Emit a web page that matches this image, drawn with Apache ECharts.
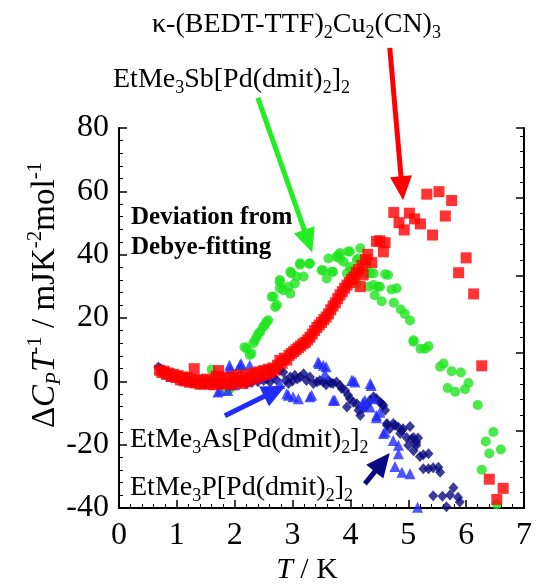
<!DOCTYPE html>
<html>
<head>
<meta charset="utf-8">
<script src="https://cdn.jsdelivr.net/npm/echarts@6/dist/echarts.min.js"></script>
<style>html,body{margin:0;padding:0;background:#fff}#c{width:541px;height:588px}</style>
</head>
<body>
<div id="c"></div>
<script>
// ---- data (T / K, ΔC_P T^-1 / mJ K^-2 mol^-1) ----
var kappaCN = [[0.70,3.5],[0.74,2.8],[0.78,3.2],[0.82,2.2],[0.86,2.6],[0.9,1.6],[0.94,2.2],[0.98,1.2],[1.02,1.8],[1.06,0.5],[1.1,1.4],[1.14,0.1],[1.18,1.2],[1.22,-0.3],[1.26,0.7],[1.3,4.0],[1.32,-0.5],[1.36,0.5],[1.4,-0.9],[1.44,0.3],[1.48,-0.7],[1.52,0.7],[1.56,-0.9],[1.6,0.1],[1.64,-1.1],[1.68,1.6],[1.72,3.4],[1.74,-0.5],[1.78,0.7],[1.82,-0.9],[1.86,1.4],[1.9,-0.3],[1.94,-1.1],[1.98,1.2],[2.02,-0.1],[2.06,2.0],[2.1,0.3],[2.14,-0.7],[2.18,1.4],[2.22,0.1],[2.26,2.2],[2.3,0.7],[2.34,2.6],[2.38,1.2],[2.42,3.0],[2.46,1.8],[2.5,3.4],[2.54,2.2],[2.58,3.8],[2.62,2.8],[2.66,4.2],[2.7,3.6],[2.74,5.1],[2.78,6.6],[2.82,5.7],[2.86,7.3],[2.9,6.7],[2.94,8.2],[2.98,8.8],[3.02,9.4],[3.06,10.0],[3.1,10.6],[3.14,11.2],[3.18,11.9],[3.22,12.3],[3.26,13.1],[3.3,13.9],[3.34,14.9],[3.38,16.0],[3.42,17.0],[3.46,17.8],[3.5,18.6],[3.54,19.5],[3.58,20.3],[3.62,21.3],[3.66,22.6],[3.7,23.8],[3.74,24.8],[3.78,26.1],[3.82,27.3],[3.86,28.3],[3.9,29.4],[3.94,30.4],[3.98,31.2],[4.02,32.2],[4.06,32.9],[4.1,34.3],[4.14,35.3],[4.17,29.9],[4.2,36.6],[4.22,33.6],[4.26,38.4],[4.3,40.1],[4.37,37.5],[4.45,44.2],[4.51,44.4],[4.57,40.9],[4.6,43.8],[4.75,53.3],[4.84,50.1],[4.93,47.8],[5.02,53.1],[5.11,51.3],[5.21,49.7],[5.32,59.1],[5.42,46.2],[5.53,59.9],[5.64,52.2],[5.75,57.1],[5.87,34.3],[6.00,39.0],[6.13,27.6],[6.27,4.9],[6.40,-30.9],[6.53,-37.3],[6.64,-33.8]];

var sbSalt = [[0.8,2.0],[1.0,1.0],[1.2,0],[1.4,-1.1],[1.6,3.7],[1.75,-1.1],[1.88,-2.9],[1.92,-2.3],[2.0,1.0],[2.1,4.0],[2.17,10.8],[2.21,10.3],[2.26,8.3],[2.29,8.8],[2.32,12.0],[2.35,13.0],[2.38,14.0],[2.41,15.1],[2.44,15.6],[2.49,17.2],[2.52,17.7],[2.55,18.8],[2.58,19.3],[2.64,26.7],[2.67,26.7],[2.7,23.5],[2.73,24.1],[2.78,29.4],[2.78,31.4],[2.78,32.0],[2.84,28.8],[2.93,29.9],[2.96,27.7],[2.96,34.6],[2.98,34.1],[3.04,30.9],[3.07,33.1],[3.13,36.8],[3.13,37.3],[3.19,33.1],[3.29,37.1],[3.30,37.3],[3.50,35.1],[3.53,35.1],[3.59,32.5],[3.62,38.8],[3.68,34.6],[3.70,34.6],[3.76,39.3],[3.79,39.8],[3.82,40.5],[3.82,38.8],[3.88,37.8],[3.94,34.1],[3.96,41.0],[3.99,36.1],[3.99,41.0],[4.02,35.1],[4.05,33.6],[4.11,30.9],[4.11,38.3],[4.14,38.8],[4.17,42.0],[4.28,36.1],[4.28,34.1],[4.31,29.9],[4.34,34.1],[4.40,30.4],[4.40,34.1],[4.42,27.2],[4.48,29.9],[4.51,29.9],[4.54,25.3],[4.60,33.8],[4.65,33.6],[4.71,29.0],[4.75,24.8],[4.80,29.4],[4.87,22.7],[4.94,21.3],[5.03,19.2],[5.09,13.0],[5.09,12.5],[5.21,10.3],[5.29,10.3],[5.35,11.1],[5.55,4.6],[5.61,5.6],[5.68,-2.1],[5.75,3.2],[5.81,-3.3],[5.91,2.8],[5.98,-2.5],[6.04,-0.5],[6.20,-7.5],[6.27,-27.9],[6.34,-19.0],[6.40,-22.8],[6.47,-16.0],[6.53,-38.8],[6.60,-21.5]];

var pSalt = [[0.68,4.5],[0.72,4.0],[0.76,3.6],[0.8,3.2],[0.85,2.8],[0.9,2.2],[0.95,1.8],[1.0,1.4],[1.06,1.0],[1.12,0.5],[1.18,0.1],[1.25,-0.1],[1.32,-0.3],[1.4,-0.5],[1.5,-0.7],[1.6,-0.7],[1.7,-0.9],[1.8,-0.7],[1.9,-0.9],[2.0,-0.7],[2.1,-0.5],[2.2,-0.7],[2.3,-0.3],[2.4,-0.1],[2.5,0.3],[2.56,0.7],[2.61,-0.2],[2.66,1.4],[2.72,0.5],[2.78,3.5],[2.84,2.9],[2.88,0.3],[2.93,-0.7],[2.96,1.4],[3.0,0.1],[3.04,1.9],[3.08,0.7],[3.13,1.4],[3.19,2.4],[3.24,0.3],[3.30,1.4],[3.36,-0.7],[3.42,-0.2],[3.47,0.3],[3.53,-0.2],[3.58,-1.1],[3.62,0.3],[3.66,-0.5],[3.70,-0.7],[3.76,-0.2],[3.82,-1.3],[3.85,-2.3],[3.91,-2.9],[3.94,-8.1],[3.96,-4.4],[3.99,-5.5],[4.05,-6.6],[4.11,-7.1],[4.14,-9.1],[4.17,-10.8],[4.22,-8.6],[4.28,-7.6],[4.34,-6.0],[4.40,-4.9],[4.45,-5.5],[4.51,-6.6],[4.54,-7.1],[4.57,-7.6],[4.60,-9.1],[4.63,-13.3],[4.63,-13.9],[4.68,-15.0],[4.74,-13.3],[4.77,-13.9],[4.83,-14.5],[4.86,-16.5],[4.89,-15.5],[4.91,-15.0],[4.97,-17.7],[5.00,-20.2],[5.03,-14.3],[5.06,-18.2],[5.09,-17.7],[5.09,-21.9],[5.14,-20.2],[5.14,-19.2],[5.17,-17.9],[5.20,-23.7],[5.26,-23.2],[5.26,-27.6],[5.35,-22.9],[5.35,-27.6],[5.43,-27.3],[5.52,-27.1],[5.55,-28.7],[5.43,-36.1],[5.59,-36.3],[5.66,-39.6],[5.72,-35.9],[5.78,-33.6],[5.86,-36.6],[5.89,-38.1]];

var asSalt = [[0.9,1.5],[1.1,0.4],[1.3,-0.1],[1.5,-0.6],[1.71,-3.4],[1.75,-2.9],[1.88,-2.9],[1.91,5.1],[1.92,4.0],[2.0,-1.1],[2.09,5.1],[2.11,5.6],[2.2,-0.1],[2.26,5.1],[2.4,1.0],[2.6,2.0],[2.78,-0.7],[2.90,-3.9],[2.93,-4.4],[3.01,-4.9],[3.10,-5.5],[3.30,-4.9],[3.33,-4.4],[3.44,6.1],[3.46,5.6],[3.53,5.1],[3.56,2.4],[3.58,4.6],[3.70,-6.0],[3.73,-6.0],[4.02,0.3],[4.05,0.3],[4.08,-0.2],[4.22,-6.6],[4.22,-7.6],[4.25,-6.0],[4.34,-0.7],[4.36,-1.3],[4.34,-8.1],[4.40,-5.5],[4.45,-10.8],[4.45,-11.5],[4.51,-9.8],[4.57,-16.5],[4.60,-16.0],[4.74,-18.7],[4.77,-26.9],[4.83,-20.2],[4.83,-22.9],[4.89,-28.7],[5.03,-29.2],[5.16,-39.8]];

var xTicks = [0, 7, 1];      // min, max, interval
var yTicks = [-40, 80, 20];  // min, max, interval

// arrows in data coordinates: [fromT, fromY, toT, toY]
var arrowRed   = [4.68, 105.3, 4.91, 57.2];
var arrowGreen = [2.40, 89.5, 3.34, 40.7];
var arrowBlue  = [1.83, -10.9, 2.88, -1.4];
var arrowNavy  = [4.25, -32.4, 4.68, -22.6];

var FONT = "'Liberation Serif','DejaVu Serif',serif";
var chart = echarts.init(document.getElementById('c'), null, {renderer:'canvas'});

function axisCommon() {
  return {
    axisLine: {show:true, onZero:false, lineStyle:{color:'#000', width:2}},
    axisTick: {show:true, inside:true, length:8, lineStyle:{color:'#000', width:1.5}},
    minorTick: {show:true, splitNumber:5, length:4, lineStyle:{color:'#000', width:1}},
    splitLine: {show:false}
  };
}

var option = {
  animation:false,
  backgroundColor:'#fff',
  grid:{left:119, right:17, top:128, bottom:80, containLabel:false},
  xAxis:[Object.assign(axisCommon(), {
    type:'value', min:xTicks[0], max:xTicks[1], interval:xTicks[2],
    axisLabel:{fontSize:32, color:'#000', fontFamily:FONT, margin:12}
  })],
  yAxis:[Object.assign(axisCommon(), {
    type:'value', min:yTicks[0], max:yTicks[1], interval:yTicks[2],
    axisLabel:{fontSize:32, color:'#000', fontFamily:FONT, margin:10}
  }), Object.assign(axisCommon(), {
    type:'value', position:'right', min:0, max:4.9, interval:1,
    axisLabel:{show:false}
  })],
  series:[
    {name:'EtMe3Sb', type:'scatter', data:sbSalt, symbol:'circle', symbolSize:10,
     itemStyle:{color:'#1de51d'}},
    {name:'EtMe3P', type:'scatter', data:pSalt, symbol:'diamond', symbolSize:[10,11],
     itemStyle:{color:'#0a0a80'}},
    {name:'EtMe3As', type:'scatter', data:asSalt, symbol:'triangle', symbolSize:11,
     itemStyle:{color:'#1f2bff'}},
    {name:'kappa', type:'scatter', data:kappaCN, symbol:'rect', symbolSize:11,
     itemStyle:{color:'#ff0000'}}
  ]
};
chart.setOption(option);

function arrow(a, color) {
  var p0 = chart.convertToPixel({xAxisIndex:0, yAxisIndex:0}, [a[0], a[1]]);
  var p1 = chart.convertToPixel({xAxisIndex:0, yAxisIndex:0}, [a[2], a[3]]);
  var dx = p1[0]-p0[0], dy = p1[1]-p0[1], L = Math.sqrt(dx*dx+dy*dy);
  var ux = dx/L, uy = dy/L, hl = 24, hw = 11;
  var bx = p1[0]-ux*hl, by = p1[1]-uy*hl;
  return [
    {type:'line', silent:true, z:100, shape:{x1:p0[0], y1:p0[1], x2:bx+ux*2, y2:by+uy*2},
     style:{stroke:color, lineWidth:5}},
    {type:'polygon', silent:true, z:100, shape:{points:[[p1[0],p1[1]],[bx-uy*hw,by+ux*hw],[bx+uy*hw,by-ux*hw]]},
     style:{fill:color}}
  ];
}

var m = {fontSize:28, fontFamily:FONT, lineHeight:34, verticalAlign:'middle', fill:'#000'};
var s = {fontSize:18, fontFamily:FONT, lineHeight:18, verticalAlign:'bottom', fill:'#000'};
var ym = {fontSize:33, fontFamily:FONT, lineHeight:40, verticalAlign:'middle', fill:'#000'};
var ymi = Object.assign({}, ym, {fontStyle:'italic'});
var ysi = {fontSize:21, fontFamily:FONT, lineHeight:21, verticalAlign:'bottom', fill:'#000', fontStyle:'italic'};
var ysup = {fontSize:21, fontFamily:FONT, lineHeight:28, verticalAlign:'top', fill:'#000'};
var xm = {fontSize:30, fontFamily:FONT, lineHeight:34, verticalAlign:'middle', fill:'#000'};
var xmi = Object.assign({}, xm, {fontStyle:'italic'});
var b = {fontSize:25, fontFamily:FONT, fontWeight:'bold', lineHeight:30, fill:'#000'};

var graphics = [];
graphics = graphics.concat(arrow(arrowRed, '#ff0000'), arrow(arrowGreen, '#22ee22'), arrow(arrowBlue, '#1f2bff'), arrow(arrowNavy, '#0a0a80'));
graphics.push(
  {type:'text', x:152, y:8, z:110, style:{text:'{m|κ-(BEDT-TTF)}{s|2}{m|Cu}{s|2}{m|(CN)}{s|3}', rich:{m:m, s:s}}},
  {type:'text', x:113, y:63, z:110, style:{text:'{m|EtMe}{s|3}{m|Sb[Pd(dmit)}{s|2}{m|]}{s|2}', rich:{m:m, s:s}}},
  {type:'text', x:131, y:203, z:110, style:{text:'{b|Deviation from}\n{b|Debye-fitting}', rich:{b:b}}},
  {type:'text', x:130, y:423, z:110, style:{text:'{m|EtMe}{s|3}{m|As[Pd(dmit)}{s|2}{m|]}{s|2}', rich:{m:m, s:s}}},
  {type:'text', x:130, y:471, z:110, style:{text:'{m|EtMe}{s|3}{m|P[Pd(dmit)}{s|2}{m|]}{s|2}', rich:{m:m, s:s}}},
  {type:'text', x:307, y:570, z:110, style:{text:'{mi|T}{m| / K}', rich:{m:xm, mi:xmi}, align:'center', verticalAlign:'middle'}},
  {type:'text', x:45, y:295, rotation:Math.PI/2, z:110, style:{
    text:'{m|Δ}{mi|C}{si|P}{mi|T}{sup|-1}{m| / mJK}{sup|-2}{m|mol}{sup|-1}',
    rich:{m:ym, mi:ymi, si:ysi, sup:ysup}, align:'center', verticalAlign:'middle'}}
);
chart.setOption({graphic:{elements:graphics}});
</script>
</body>
</html>
